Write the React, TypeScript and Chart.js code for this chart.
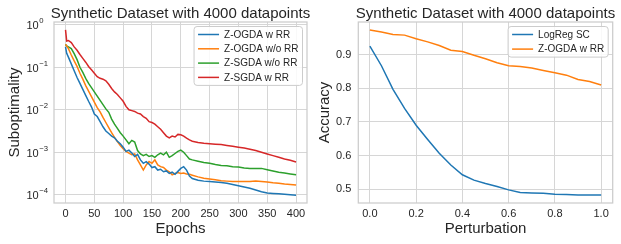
import React, { useEffect, useRef } from "react";
import { Chart, registerables } from "chart.js";

Chart.register(...registerables);

// ---------- Left chart data ----------
const epochs = [
  0, 2, 5, 10, 15, 20, 25, 30, 35, 40, 45, 50, 55, 60, 65, 70, 75, 80, 85, 90, 95, 100,
  105, 110, 115, 120, 125, 130, 135, 140, 145, 150, 155, 160, 165, 170, 175, 180, 185, 190,
  195, 200, 205, 210, 215, 220, 230, 240, 250, 260, 270, 280, 290, 300, 310, 320, 330, 340,
  350, 360, 370, 380, 390, 400,
];
// log10(suboptimality)
const zogdaRRLog10 = [
  -0.52, -0.67, -0.76, -0.92, -1.08, -1.24, -1.38, -1.52, -1.66, -1.8, -1.93, -2.1, -2.16,
  -2.28, -2.4, -2.5, -2.56, -2.62, -2.66, -2.74, -2.8, -2.88, -2.98, -2.95, -3.02, -3.1,
  -3.05, -3.18, -3.26, -3.22, -3.28, -3.36, -3.34, -3.42, -3.4, -3.46, -3.44, -3.5, -3.47,
  -3.52, -3.45, -3.38, -3.34, -3.42, -3.56, -3.62, -3.66, -3.68, -3.69, -3.7, -3.71, -3.73,
  -3.76, -3.79, -3.82, -3.85, -3.89, -3.93, -3.96, -3.97, -3.98, -3.99, -4.0, -4.01,
];
const zogdaNoRRLog10 = [
  -0.46, -0.5, -0.56, -0.71, -0.85, -0.98, -1.14, -1.28, -1.43, -1.56, -1.69, -1.82, -1.95,
  -2.05, -2.18, -2.3, -2.42, -2.54, -2.65, -2.75, -2.84, -2.92, -2.98, -3.02, -3.06, -3.04,
  -3.18, -3.3, -3.42, -3.3, -3.22, -3.26, -3.18, -3.3, -3.34, -3.36, -3.42, -3.46, -3.53,
  -3.5, -3.48, -3.5, -3.49, -3.51, -3.52, -3.54, -3.58, -3.61, -3.63, -3.65, -3.67, -3.68,
  -3.69, -3.69, -3.69, -3.69, -3.68, -3.69, -3.7, -3.72, -3.73, -3.75, -3.76, -3.77,
];
const zsgdaNoRRLog10 = [
  -0.46, -0.5, -0.52, -0.56, -0.68, -0.82, -1.0, -1.12, -1.26, -1.38, -1.48, -1.58, -1.68,
  -1.78, -1.88, -1.98, -2.06, -2.22, -2.34, -2.44, -2.54, -2.62, -2.71, -2.8, -2.72, -2.76,
  -2.96, -3.04, -3.08, -3.05, -3.1, -3.08, -3.12, -3.06, -3.02, -3.06, -3.0, -3.12, -3.08,
  -3.03, -2.98, -2.95, -3.0, -3.08, -3.16, -3.18, -3.21, -3.24, -3.26, -3.29, -3.31, -3.32,
  -3.34, -3.35, -3.37, -3.38, -3.38, -3.38, -3.41, -3.44, -3.47, -3.49, -3.51, -3.53,
];
const zsgdaRRLog10 = [
  -0.12, -0.38, -0.37, -0.42, -0.52, -0.6, -0.7, -0.79, -0.88, -0.98, -1.06, -1.14, -1.22,
  -1.26, -1.28, -1.32, -1.4, -1.5, -1.58, -1.64, -1.72, -1.8, -1.92, -2.0, -2.02, -2.04,
  -2.08, -2.1, -2.16, -2.2, -2.28, -2.3, -2.34, -2.4, -2.46, -2.54, -2.62, -2.66, -2.62,
  -2.64, -2.58, -2.59, -2.62, -2.67, -2.71, -2.74, -2.77, -2.79, -2.8, -2.81, -2.82, -2.84,
  -2.86, -2.88, -2.9, -2.93, -2.96, -3.0, -3.04, -3.08, -3.12, -3.16, -3.19, -3.23,
];
const leftLabels = ["Z-OGDA w RR", "Z-OGDA w/o RR", "Z-SGDA w/o RR", "Z-SGDA w RR"];
const epochTicks = [0, 50, 100, 150, 200, 250, 300, 350, 400];
const subExponents = [0, -1, -2, -3, -4];

// ---------- Right chart data ----------
const perturbation = [
  0, 0.05, 0.1, 0.15, 0.2, 0.25, 0.3, 0.35, 0.4, 0.45, 0.5, 0.55, 0.6, 0.65, 0.7, 0.75, 0.8,
  0.85, 0.9, 0.95, 1.0,
];
const logregSC = [
  0.925, 0.867, 0.797, 0.74, 0.69, 0.648, 0.607, 0.572, 0.543, 0.527, 0.517, 0.508, 0.498,
  0.49, 0.489, 0.488, 0.485, 0.484, 0.483, 0.483, 0.483,
];
const zogdaRRAcc = [
  0.973, 0.967, 0.96, 0.958, 0.947, 0.938, 0.927, 0.913, 0.909, 0.898, 0.888, 0.876, 0.867,
  0.865, 0.86, 0.853, 0.846, 0.839, 0.826, 0.82, 0.81,
];
const rightLabels = ["LogReg SC", "Z-OGDA w RR"];
const pertTicks = [0, 0.2, 0.4, 0.6, 0.8, 1.0];
const accTicks = [0.5, 0.6, 0.7, 0.8, 0.9];

const TITLE = "Synthetic Dataset with 4000 datapoints";

// ---------- styles ----------
const FONT = "'Liberation Sans', Arial, Helvetica, sans-serif";
const TEXT = "#262626";
const GRID = "#d6d6d6";
const FRAME = "#cccccc";
const C_BLUE = "#1f77b4";
const C_ORANGE = "#ff7f0e";
const C_GREEN = "#2ca02c";
const C_RED = "#d62728";

const decoPlugin = (items: { label: string; color: string }[], rowH: number) => ({
  id: "deco",
  afterDatasetsDraw(chart: any) {
    const { ctx, chartArea: a } = chart;
    ctx.save();
    ctx.strokeStyle = FRAME;
    ctx.lineWidth = 1.25;
    ctx.strokeRect(a.left, a.top, a.right - a.left, a.bottom - a.top);
    ctx.restore();
  },
  afterDraw(chart: any) {
    const { ctx, chartArea: a } = chart;
    ctx.save();
    // title
    ctx.fillStyle = TEXT;
    ctx.font = `15px ${FONT}`;
    ctx.textAlign = "center";
    ctx.textBaseline = "alphabetic";
    ctx.fillText(TITLE, (a.left + a.right) / 2, 17.5);
    // legend
    ctx.font = `10px ${FONT}`;
    const textW = Math.max(...items.map((i) => ctx.measureText(i.label).width));
    const pad = 4, lineLen = 21, gap = 5;
    const w = pad + lineLen + gap + textW + pad;
    const h = (items.length - 1) * rowH + 16;
    const right = a.right - 4.5;
    const top = a.top + 4.5;
    const left = right - w;
    ctx.beginPath();
    (ctx as any).roundRect(left, top, w, h, 3);
    ctx.fillStyle = "rgba(255,255,255,0.85)";
    ctx.fill();
    ctx.strokeStyle = FRAME;
    ctx.lineWidth = 1;
    ctx.stroke();
    items.forEach((it, i) => {
      const cy = top + 8 + i * rowH;
      ctx.strokeStyle = it.color;
      ctx.lineWidth = 1.5;
      ctx.beginPath();
      ctx.moveTo(left + pad, cy);
      ctx.lineTo(left + pad + lineLen, cy);
      ctx.stroke();
      ctx.fillStyle = TEXT;
      ctx.textAlign = "left";
      ctx.textBaseline = "middle";
      ctx.fillText(it.label, left + pad + lineLen + gap, cy + 0.5);
    });
    ctx.restore();
  },
});

const logTickPlugin = {
  id: "logTicks",
  afterDraw(chart: any) {
    const { ctx, chartArea: a } = chart;
    const s = chart.scales.y;
    ctx.save();
    ctx.fillStyle = TEXT;
    ctx.textAlign = "left";
    ctx.textBaseline = "alphabetic";
    subExponents.forEach((e) => {
      const y = s.getPixelForValue(Math.pow(10, e));
      const baseX = a.left - 27.5;
      ctx.font = `11px ${FONT}`;
      const bw = ctx.measureText("10").width;
      ctx.fillText("10", baseX, y + 4.5);
      ctx.font = `7.7px ${FONT}`;
      const ex = e === 0 ? "0" : "\u2212" + Math.abs(e);
      ctx.fillText(ex, baseX + bw + 0.5, y - 1.5);
    });
    ctx.restore();
  },
};

const fixTicks = (vals: number[]) => (scale: any) => {
  scale.ticks = vals.map((v) => ({ value: v }));
};

export default function App() {
  const leftRef = useRef<HTMLCanvasElement>(null);
  const rightRef = useRef<HTMLCanvasElement>(null);

  useEffect(() => {
    document.body.style.margin = "0";
    Chart.defaults.font.family = FONT;
    Chart.defaults.color = TEXT;

    const mk = (vals: number[]) => epochs.map((x, i) => ({ x, y: Math.pow(10, vals[i]) }));
    const leftColors = [C_BLUE, C_ORANGE, C_GREEN, C_RED];
    const leftSeries = [zogdaRRLog10, zogdaNoRRLog10, zsgdaNoRRLog10, zsgdaRRLog10];

    const left = new Chart(leftRef.current!, {
      type: "line",
      data: {
        datasets: leftSeries.map((s, i) => ({
          label: leftLabels[i],
          data: mk(s),
          borderColor: leftColors[i],
          backgroundColor: leftColors[i],
          borderWidth: 1.5,
          pointRadius: 0,
          tension: 0,
        })),
      },
      options: {
        animation: false,
        responsive: false,
        events: [],
        layout: { padding: { top: 22, right: 3, left: 0, bottom: 0 } },
        plugins: { legend: { display: false }, title: { display: false }, tooltip: { enabled: false } },
        scales: {
          x: {
            type: "linear",
            min: -20,
            max: 419,
            afterBuildTicks: fixTicks(epochTicks),
            afterFit: (s: any) => { s.height = 41; },
            grid: { color: GRID, lineWidth: 1, drawTicks: false },
            border: { display: false },
            ticks: { font: { size: 11 }, padding: 4, color: TEXT, maxRotation: 0, autoSkip: false },
            title: { display: true, text: "Epochs", font: { size: 15 }, color: TEXT, padding: { top: 0, bottom: 6 } },
          },
          y: {
            type: "logarithmic",
            min: Math.pow(10, -4.195),
            max: Math.pow(10, 0.066),
            afterBuildTicks: fixTicks(subExponents.map((e) => Math.pow(10, e))),
            afterFit: (s: any) => { s.width = 54; },
            grid: { color: GRID, lineWidth: 1, drawTicks: false },
            border: { display: false },
            ticks: { display: false },
            title: { display: true, text: "Suboptimality", font: { size: 15 }, color: TEXT, padding: { top: 6, bottom: 0 } },
          },
        },
      },
      plugins: [
        decoPlugin(leftLabels.map((l, i) => ({ label: l, color: leftColors[i] })), 14.3),
        logTickPlugin,
      ],
    } as any);

    const rightColors = [C_BLUE, C_ORANGE];
    const rightSeries = [logregSC, zogdaRRAcc];
    const right = new Chart(rightRef.current!, {
      type: "line",
      data: {
        datasets: rightSeries.map((s, i) => ({
          label: rightLabels[i],
          data: perturbation.map((x, j) => ({ x, y: s[j] })),
          borderColor: rightColors[i],
          backgroundColor: rightColors[i],
          borderWidth: 1.5,
          pointRadius: 0,
          tension: 0,
        })),
      },
      options: {
        animation: false,
        responsive: false,
        events: [],
        layout: { padding: { top: 22, right: 8.3, left: 0, bottom: 0 } },
        plugins: { legend: { display: false }, title: { display: false }, tooltip: { enabled: false } },
        scales: {
          x: {
            type: "linear",
            min: -0.05,
            max: 1.05,
            afterBuildTicks: fixTicks(pertTicks),
            afterFit: (s: any) => { s.height = 41; },
            grid: { color: GRID, lineWidth: 1, drawTicks: false },
            border: { display: false },
            ticks: { font: { size: 11 }, padding: 4, color: TEXT, maxRotation: 0, autoSkip: false, callback: (v: any) => Number(v).toFixed(1) },
            title: { display: true, text: "Perturbation", font: { size: 15 }, color: TEXT, padding: { top: 0, bottom: 6 } },
          },
          y: {
            type: "linear",
            min: 0.459,
            max: 0.997,
            afterBuildTicks: fixTicks(accTicks),
            afterFit: (s: any) => { s.width = 48.3; },
            grid: { color: GRID, lineWidth: 1, drawTicks: false },
            border: { display: false },
            ticks: { font: { size: 11 }, padding: 7, color: TEXT, callback: (v: any) => Number(v).toFixed(1) },
            title: { display: true, text: "Accuracy", font: { size: 15 }, color: TEXT, padding: { top: 6, bottom: 0 } },
          },
        },
      },
      plugins: [decoPlugin(rightLabels.map((l, i) => ({ label: l, color: rightColors[i] })), 14.6)],
    } as any);

    return () => {
      left.destroy();
      right.destroy();
    };
  }, []);

  return (
    <div style={{ position: "relative", width: 621, height: 244 }}>
      <canvas ref={leftRef} width={310} height={244} style={{ position: "absolute", left: 0, top: 0, width: 310, height: 244 }} />
      <canvas ref={rightRef} width={311} height={244} style={{ position: "absolute", left: 310, top: 0, width: 311, height: 244 }} />
    </div>
  );
}
